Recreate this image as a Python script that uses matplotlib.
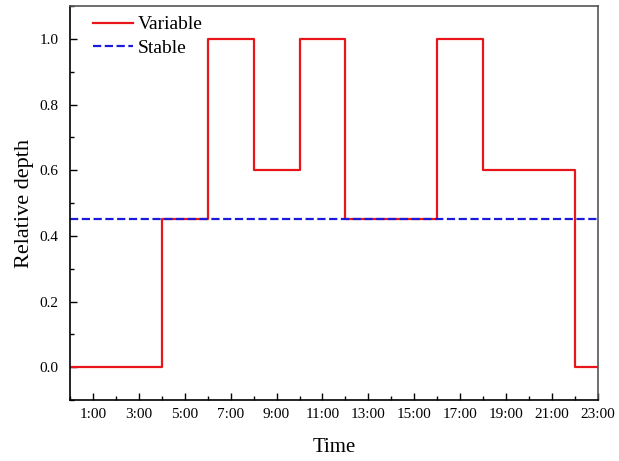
import matplotlib
matplotlib.use('Agg')
import matplotlib.pyplot as plt
import numpy as np
from matplotlib.ticker import MultipleLocator

plt.rcParams['font.family'] = 'Liberation Serif'

# step change points (hour) and relative depth after each point
hours = [0, 4, 6, 8, 10, 12, 16, 18, 22, 23]
depth = [0.0, 0.45, 1.0, 0.6, 1.0, 0.45, 1.0, 0.6, 0.0, 0.0]
stable_depth = 0.45
tick_hours = [1, 3, 5, 7, 9, 11, 13, 15, 17, 19, 21, 23]
tick_labels = ['%d:00' % h for h in tick_hours]

fig = plt.figure(figsize=(6.19, 4.61), dpi=100)
ax = fig.add_axes([0.113, 0.132, 0.853, 0.855])

ax.plot(hours, depth, drawstyle='steps-post', color='#e8161b', linewidth=1.6, label='Variable')
ax.plot([0, 23], [stable_depth, stable_depth], '--', color='#1a1adb', linewidth=1.6, label='Stable')

ax.set_xlim(0, 23)
ax.set_ylim(-0.1, 1.1)
ax.set_xticks(tick_hours)
ax.set_xticklabels(tick_labels)
ax.xaxis.set_minor_locator(MultipleLocator(1))
ax.set_yticks([0.0, 0.2, 0.4, 0.6, 0.8, 1.0])
ax.set_yticklabels(['0.0', '0.2', '0.4', '0.6', '0.8', '1.0'])
ax.yaxis.set_minor_locator(MultipleLocator(0.1))
ax.tick_params(which='both', direction='in', labelsize=11, width=1.0)
ax.tick_params(which='major', length=5)
ax.tick_params(which='minor', length=3)
ax.tick_params(axis='x', pad=6)
ax.tick_params(axis='y', pad=8)
for s in ['top', 'right']:
    ax.spines[s].set_color('#555555')
for s in ax.spines.values():
    s.set_linewidth(1.2)

ax.set_xlabel('Time', fontsize=15, labelpad=12)
ax.set_ylabel('Relative depth', fontsize=16, labelpad=4)
ax.legend(loc='upper left', bbox_to_anchor=(0.029, 0.995), frameon=False, fontsize=14,
          handlelength=2.05, borderaxespad=0, borderpad=0.4, labelspacing=0.3,
          handletextpad=0.26)

plt.savefig('out.png', dpi=100)
